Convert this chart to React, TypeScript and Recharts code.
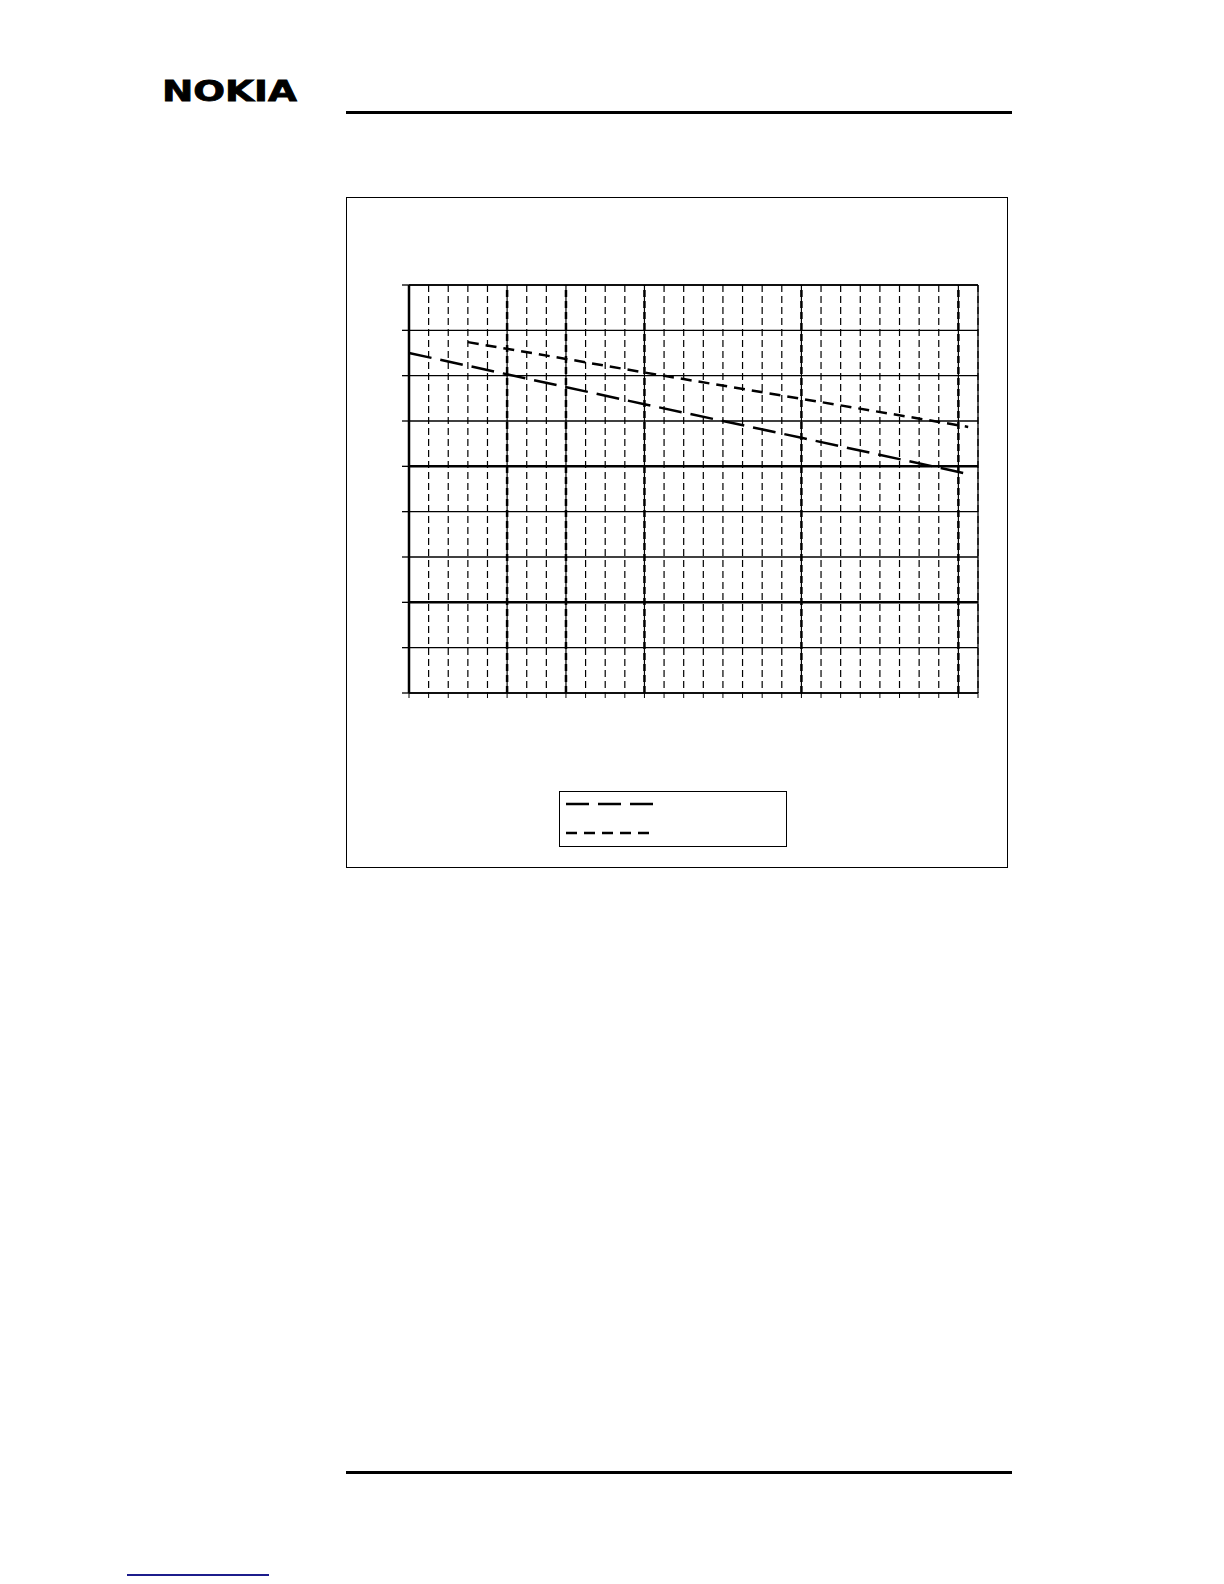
import { LineChart, Line, XAxis, YAxis, CartesianGrid, ReferenceLine, Legend } from 'recharts';

// grid positions (no labels survive on the page)
const xTicks = [0, 1, 2, 3, 4, 5, 6, 7, 8, 9, 10, 11, 12, 13, 14, 15, 16, 17, 18, 19, 20, 21, 22, 23, 24, 25, 26, 27, 28, 29];
const yTicks = [0, 1, 2, 3, 4, 5, 6, 7, 8, 9];
const yMinorSteps = [0.2, 0.4, 0.6, 0.8];
const boldX = [5, 8, 12, 20, 28];
const boldY = [2, 5];

// long dash series
const longX = [0, 5, 12, 20, 28.5];
const longY = [7.5, 7.03, 6.37, 5.63, 4.83];

// short dash series
const shortX = [3, 8, 12, 20, 28.5];
const shortY = [7.74, 7.37, 7.07, 6.49, 5.87];

const yMinorTicks = yTicks.slice(0, -1).flatMap((t) => yMinorSteps.map((s) => Math.round((t + s) * 10) / 10));

const longData = longX.map((x, i) => ({ x, y: longY[i] }));
const shortData = shortX.map((x, i) => ({ x, y: shortY[i] }));

const dashes: Record<string, string> = { long: '23 9', short: '11 7' };

// tick marks stay, labels are blank
const noLabel = () => <g />;

const renderLegend = (props: any) => {
  const items = props.payload || [];
  return (
    <div style={{ width: 228, height: 56, border: '1px solid #000', boxSizing: 'border-box', background: '#fff' }}>
      <svg width={226} height={54}>
        {items.map((entry: any, i: number) => (
          <line
            key={entry.value}
            x1={6}
            x2={93}
            y1={12 + i * 29}
            y2={12 + i * 29}
            stroke="#000"
            strokeWidth={2.5}
            strokeDasharray={dashes[entry.value]}
          />
        ))}
      </svg>
    </div>
  );
};

const App = () => {
  return (
    <div style={{ position: 'absolute', left: 0, top: 0, width: 1224, height: 1584, background: '#fff' }}>
      <svg style={{ position: 'absolute', left: 150, top: 70 }} width={160} height={40}>
        <text
          x={12}
          y={31}
          fontFamily="DejaVu Sans, Liberation Sans, sans-serif"
          fontWeight={700}
          fontSize={29}
          textLength={135}
          lengthAdjust="spacingAndGlyphs"
          fill="#000"
          stroke="#000"
          strokeWidth={0.8}
        >
          NOKIA
        </text>
      </svg>
      <div style={{ position: 'absolute', left: 346, top: 111, width: 666, height: 3, background: '#000' }} />

      <div
        style={{
          position: 'absolute',
          left: 346,
          top: 197,
          width: 662,
          height: 671,
          border: '1px solid #000',
          boxSizing: 'border-box',
        }}
      >
        <LineChart width={660} height={669} margin={{ top: 87, right: 29, bottom: 173, left: 61 }}>
          <CartesianGrid horizontal={false} stroke="#000" strokeWidth={1.2} strokeDasharray="7 4" />
          <CartesianGrid vertical={false} stroke="#000" strokeWidth={1.3} />
          <XAxis
            dataKey="x"
            type="number"
            domain={[0, 29]}
            ticks={xTicks}
            interval={0}
            height={1}
            tick={noLabel}
            tickSize={5}
            tickLine={{ stroke: '#000' }}
            axisLine={{ stroke: '#000', strokeWidth: 1.3 }}
          />
          <YAxis
            type="number"
            domain={[0, 9]}
            ticks={yTicks}
            interval={0}
            width={1}
            tick={noLabel}
            tickSize={7}
            tickLine={{ stroke: '#000', strokeWidth: 1.3 }}
            axisLine={{ stroke: '#000', strokeWidth: 2.5 }}
          />
          <YAxis
            yAxisId="minor"
            type="number"
            domain={[0, 9]}
            ticks={yMinorTicks}
            interval={0}
            width={1}
            mirror
            tick={noLabel}
            tickSize={6}
            tickLine={{ stroke: '#000', strokeWidth: 1.3 }}
            axisLine={false}
          />
          {boldX.map((v) => (
            <ReferenceLine key={'bx' + v} x={v} stroke="#000" strokeWidth={2.5} strokeDasharray="7 4" />
          ))}
          {boldY.map((v) => (
            <ReferenceLine key={'by' + v} y={v} stroke="#000" strokeWidth={2.5} />
          ))}
          <ReferenceLine x={29} stroke="#000" strokeWidth={1.3} />
          <ReferenceLine y={9} stroke="#000" strokeWidth={1.3} />
          <Line
            data={longData}
            dataKey="y"
            name="long"
            type="linear"
            stroke="#000"
            strokeWidth={2.5}
            strokeDasharray={dashes.long}
            dot={false}
            activeDot={false}
            isAnimationActive={false}
          />
          <Line
            data={shortData}
            dataKey="y"
            name="short"
            type="linear"
            stroke="#000"
            strokeWidth={2.5}
            strokeDasharray={dashes.short}
            dot={false}
            activeDot={false}
            isAnimationActive={false}
          />
          <Legend
            layout="horizontal"
            verticalAlign="middle"
            align="center"
            content={renderLegend}
            wrapperStyle={{ left: 212, top: 593, width: 228, height: 56 }}
          />
        </LineChart>
      </div>

      <div style={{ position: 'absolute', left: 346, top: 1471, width: 666, height: 3, background: '#000' }} />
      <div style={{ position: 'absolute', left: 127, top: 1574, width: 142, height: 2, background: '#1c1c8c' }} />
    </div>
  );
};

export default App;
